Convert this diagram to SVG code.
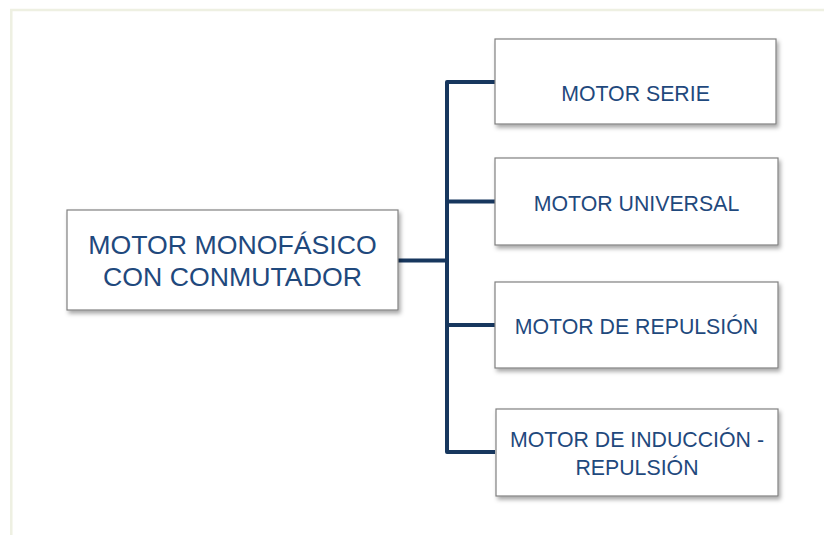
<svg xmlns="http://www.w3.org/2000/svg" width="824" height="535" viewBox="0 0 824 535">
  <defs>
    <filter id="shadow" x="-10%" y="-10%" width="125%" height="130%">
      <feDropShadow dx="2" dy="3" stdDeviation="2" flood-color="#000" flood-opacity="0.35"/>
    </filter>
  </defs>
  <style>
    .box { fill: #ffffff; stroke: #808080; stroke-width: 1.2; filter: url(#shadow); }
    .lbl { font-family: "Liberation Sans", Arial, sans-serif; fill: #1F497D; text-anchor: middle; }
    .small { font-size: 21.3px; }
    .big { font-size: 26.7px; }
    .link { fill: none; stroke: #17375E; stroke-width: 4; stroke-linejoin: round; stroke-linecap: butt; }
  </style>

  <!-- page frame -->
  <path d="M11.3,535 V10 H824" fill="none" stroke="#EEF0E2" stroke-width="2.5"/>

  <!-- connectors -->
  <g id="connectors">
    <path class="link" d="M398,260.5 H447"/>
    <path class="link" d="M495,82 H447 V452 H495"/>
    <path class="link" d="M447,201.5 H495"/>
    <path class="link" d="M447,325 H495"/>
  </g>

  <g id="node-root">
    <rect class="box" x="67" y="210" width="331" height="100"/>
    <text class="lbl big" x="232.5" y="254">MOTOR MONOFÁSICO</text>
    <text class="lbl big" x="232.5" y="286">CON CONMUTADOR</text>
  </g>

  <g id="node-serie">
    <rect class="box" x="495" y="39" width="281" height="85"/>
    <text class="lbl small" x="635.5" y="101">MOTOR SERIE</text>
  </g>

  <g id="node-universal">
    <rect class="box" x="495" y="158" width="283" height="87"/>
    <text class="lbl small" x="636.5" y="211">MOTOR UNIVERSAL</text>
  </g>

  <g id="node-repulsion">
    <rect class="box" x="495" y="282" width="283" height="86"/>
    <text class="lbl small" x="636.5" y="334">MOTOR DE REPULSIÓN</text>
  </g>

  <g id="node-induccion">
    <rect class="box" x="496" y="409" width="282" height="87"/>
    <text class="lbl small" x="637" y="447">MOTOR DE INDUCCIÓN -</text>
    <text class="lbl small" x="637" y="475">REPULSIÓN</text>
  </g>
</svg>
